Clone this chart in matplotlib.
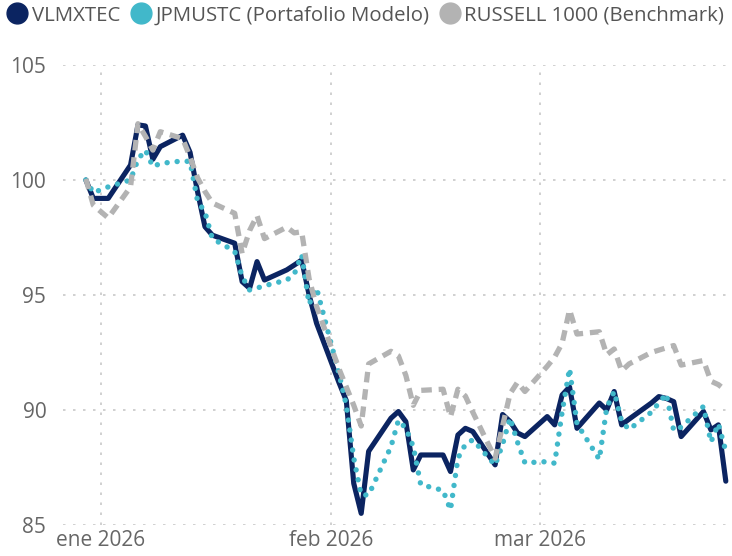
import matplotlib
matplotlib.use("Agg")
import matplotlib.pyplot as plt
import matplotlib.dates as mdates
from matplotlib.lines import Line2D
import pandas as pd

plt.rcParams['font.family'] = ['Open Sans', 'DejaVu Sans']

# trading days
fechas = [
    "2025-12-30", "2025-12-31", "2026-01-02", "2026-01-05", "2026-01-06",
    "2026-01-07", "2026-01-08", "2026-01-09", "2026-01-12", "2026-01-13",
    "2026-01-14", "2026-01-15", "2026-01-16", "2026-01-19", "2026-01-20",
    "2026-01-21", "2026-01-22", "2026-01-23", "2026-01-26", "2026-01-27",
    "2026-01-28", "2026-01-29", "2026-01-30", "2026-02-02", "2026-02-03",
    "2026-02-04", "2026-02-05", "2026-02-06", "2026-02-09", "2026-02-10",
    "2026-02-11", "2026-02-12", "2026-02-13", "2026-02-16", "2026-02-17",
    "2026-02-18", "2026-02-19", "2026-02-20", "2026-02-23", "2026-02-24",
    "2026-02-25", "2026-02-26", "2026-02-27", "2026-03-02", "2026-03-03",
    "2026-03-04", "2026-03-05", "2026-03-06", "2026-03-09", "2026-03-10",
    "2026-03-11", "2026-03-12", "2026-03-13", "2026-03-16", "2026-03-17",
    "2026-03-18", "2026-03-19", "2026-03-20", "2026-03-23", "2026-03-24",
    "2026-03-25", "2026-03-26",
]

vlmxtec = [
    100.0, 99.2, 99.2, 100.65, 102.4,
    102.35, 100.9, 101.45, 101.95, 101.2,
    99.5, 97.97, 97.6, 97.25, 95.58,
    95.29, 96.45, 95.65, 96.09, 96.3,
    96.52, 95.0, 93.77, 91.2, 90.4,
    86.8, 85.5, 88.2, 89.64, 89.93,
    89.49, 87.39, 88.04, 88.04, 87.32,
    88.91, 89.2, 89.06, 87.61, 89.8,
    89.5, 89.0, 88.84, 89.71, 89.35,
    90.65, 91.0, 89.2, 90.3, 90.0,
    90.8, 89.35, 89.6, 90.3, 90.58,
    90.5, 90.36, 88.84, 89.93, 89.13,
    89.35, 86.9,
]

jpmustc = [
    100.0, 99.45, 99.7, 100.0, 100.9,
    101.3, 100.58, 100.72, 100.83, 100.8,
    99.1, 98.6, 97.45, 96.9, 95.8,
    95.22, 95.3, 95.4, 95.65, 95.9,
    96.74, 94.6, 95.3, 91.6, 90.2,
    87.9, 86.3, 86.3, 88.4, 89.55,
    89.2, 88.4, 86.75, 86.5, 85.65,
    87.9, 88.5, 88.7, 87.6, 88.5,
    89.65, 88.6, 87.7, 87.75, 87.68,
    89.9, 91.8, 89.4, 87.85, 90.1,
    90.8, 89.5, 89.15, 89.9, 90.3,
    90.7, 89.1, 89.25, 90.15, 88.6,
    89.4, 88.2,
]

russell = [
    100.05, 98.9, 98.35, 99.7, 102.45,
    101.9, 101.3, 102.1, 101.8, 101.0,
    100.1, 99.5, 99.0, 98.55, 96.8,
    97.8, 98.45, 97.45, 97.95, 97.7,
    97.75, 95.7, 94.5, 91.8, 91.0,
    90.2, 89.3, 92.0, 92.55, 92.35,
    91.5, 90.2, 90.85, 90.9, 89.7,
    90.9, 90.6, 89.9, 87.9, 89.3,
    90.7, 91.2, 90.8, 91.9, 92.3,
    92.9, 94.35, 93.3, 93.4, 92.4,
    92.65, 91.7, 92.0, 92.5, 92.6,
    92.7, 92.8, 91.95, 92.15, 91.25,
    91.1, 90.85,
]

nombres = ["VLMXTEC", "JPMUSTC (Portafolio Modelo)", "RUSSELL 1000 (Benchmark)"]
colores = ["#0B2461", "#41B8CA", "#B3B3B3"]

fechas = pd.to_datetime(fechas)

fig = plt.figure(figsize=(7.32, 5.56), dpi=100)
ax = fig.add_axes([0.086, 0.056, 0.914, 0.827])

ax.plot(fechas, vlmxtec, color=colores[0], lw=3.7, solid_joinstyle='round',
        solid_capstyle='round', zorder=3)
ax.plot(fechas, jpmustc, color=colores[1], lw=3.9, linestyle=(0, (0.01, 1.85)),
        dash_capstyle='round', zorder=4)
ax.plot(fechas, russell, color=colores[2], lw=3.8, linestyle=(0, (2.0, 1.3)),
        dash_capstyle='butt', zorder=5)

ax.set_ylim(85, 105)
ax.set_yticks([85, 90, 95, 100, 105])
ax.set_xlim(pd.Timestamp("2025-12-26 22:00"), pd.Timestamp("2026-03-26 20:00"))
ax.xaxis.set_major_locator(mdates.MonthLocator())
meses = {1: "ene", 2: "feb", 3: "mar"}
ax.xaxis.set_major_formatter(
    matplotlib.ticker.FuncFormatter(lambda v, p: f"{meses[mdates.num2date(v).month]} {mdates.num2date(v).year}"))

ax.grid(True, color="#C8C8C8", lw=1.2, linestyle=(0, (1.5, 4.5)))
ax.set_axisbelow(True)
for s in ax.spines.values():
    s.set_visible(False)
ax.tick_params(length=0, labelsize=15, labelcolor="#666666")
ax.tick_params(axis='y', pad=12)
ax.tick_params(axis='x', pad=4)

handles = [Line2D([], [], marker='o', linestyle='', markersize=15,
                  markerfacecolor=c, markeredgecolor=c) for c in colores]
fig.legend(handles, nombres, loc='upper left', bbox_to_anchor=(-0.01, 1.012),
           ncol=3, frameon=False, fontsize=14.7, labelcolor="#555555",
           handletextpad=0.12, columnspacing=0.4, handlelength=1.2,
           borderaxespad=0.2)

fig.savefig("out.png", dpi=100)
